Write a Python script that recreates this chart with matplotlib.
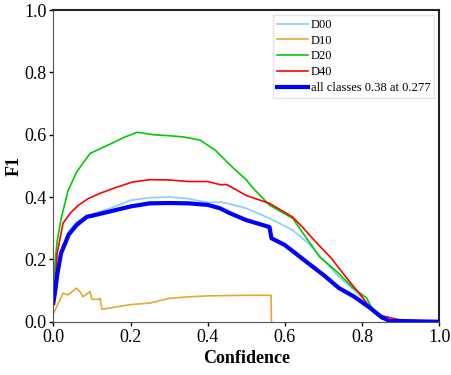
import numpy as np
import matplotlib.pyplot as plt

plt.rcParams['font.family'] = ['Liberation Serif', 'DejaVu Serif']

# confidence / F1 points
x_d00 = [0.0, 0.005, 0.01, 0.02, 0.04, 0.06, 0.08, 0.1, 0.15, 0.2, 0.25, 0.3, 0.35, 0.4, 0.432,
         0.45, 0.5, 0.56, 0.62, 0.66, 0.70, 0.74, 0.78, 0.82, 0.85, 0.87, 0.9, 1.0]
y_d00 = [0.06, 0.1, 0.17, 0.23, 0.29, 0.32, 0.335, 0.345, 0.365, 0.39, 0.398, 0.4, 0.395, 0.383, 0.384,
         0.38, 0.364, 0.332, 0.294, 0.252, 0.198, 0.144, 0.1, 0.054, 0.015, 0.003, 0.0, 0.0]

x_d10 = [0.0, 0.025, 0.038, 0.06, 0.07, 0.077, 0.095, 0.1, 0.12, 0.121, 0.126, 0.2, 0.25, 0.3,
         0.35, 0.4, 0.5, 0.564, 0.565]
y_d10 = [0.025, 0.092, 0.086, 0.108, 0.095, 0.08, 0.097, 0.072, 0.072, 0.076, 0.04, 0.055, 0.06,
         0.075, 0.08, 0.083, 0.085, 0.085, 0.0]

x_d20 = [0.0, 0.005, 0.01, 0.02, 0.038, 0.06, 0.095, 0.147, 0.18, 0.217, 0.26, 0.3, 0.337, 0.38,
         0.42, 0.458, 0.5, 0.518, 0.56, 0.62, 0.647, 0.69, 0.735, 0.777, 0.812, 0.83, 0.85,
         0.88, 1.0]
y_d20 = [0.1, 0.2, 0.26, 0.33, 0.42, 0.48, 0.54, 0.57, 0.59, 0.608, 0.6, 0.597, 0.593, 0.583,
         0.55, 0.503, 0.455, 0.428, 0.374, 0.332, 0.284, 0.208, 0.16, 0.108, 0.076, 0.03, 0.01,
         0.003, 0.0]

x_d40 = [0.0, 0.005, 0.01, 0.025, 0.045, 0.065, 0.09, 0.121, 0.16, 0.207, 0.25, 0.3, 0.35, 0.4,
         0.432, 0.45, 0.5, 0.56, 0.62, 0.645, 0.68, 0.72, 0.76, 0.80, 0.82, 0.85, 0.9, 1.0]
y_d40 = [0.07, 0.13, 0.22, 0.316, 0.35, 0.374, 0.395, 0.412, 0.43, 0.449, 0.456, 0.455, 0.45,
         0.45, 0.44, 0.44, 0.405, 0.38, 0.336, 0.304, 0.256, 0.204, 0.14, 0.08, 0.044, 0.02,
         0.005, 0.0]

x_all = [0.0, 0.005, 0.01, 0.02, 0.04, 0.06, 0.087, 0.1, 0.15, 0.2, 0.25, 0.3, 0.35, 0.4, 0.432,
         0.458, 0.5, 0.56, 0.565, 0.6, 0.66, 0.70, 0.74, 0.78, 0.82, 0.85, 0.87, 1.0]
y_all = [0.06, 0.1, 0.15, 0.22, 0.28, 0.31, 0.337, 0.34, 0.355, 0.37, 0.38, 0.381, 0.38, 0.375,
         0.364, 0.348, 0.326, 0.304, 0.268, 0.246, 0.188, 0.15, 0.108, 0.08, 0.045, 0.015,
         0.003, 0.0]

fig, ax = plt.subplots(figsize=(4.52, 3.75), dpi=100)
fig.subplots_adjust(left=0.118, right=0.972, bottom=0.142, top=0.973)

ax.plot(x_d00, y_d00, color='#87cefa', lw=1.2, label='D00')
ax.plot(x_d10, y_d10, color='#e8a830', lw=1.2, label='D10')
ax.plot(x_d20, y_d20, color='#00cc00', lw=1.2, label='D20')
ax.plot(x_d40, y_d40, color='#ff0000', lw=1.2, label='D40')
ax.plot(x_all, y_all, color='#0000ff', lw=3, label='all classes 0.38 at 0.277')

ax.set_xlim(0, 1)
ax.set_ylim(0, 1)
ax.set_xticks(np.arange(0, 1.01, 0.2))
ax.set_yticks(np.arange(0, 1.01, 0.2))
ax.set_xlabel('Confidence', fontsize=13, fontweight='bold', labelpad=3)
ax.set_ylabel('F1', fontsize=13, fontweight='bold', labelpad=1)
ax.tick_params(labelsize=13, length=3, width=1, direction='out', pad=2)
for s in ['left', 'bottom']:
    ax.spines[s].set_color('#555555')
for s in ['top', 'right']:
    ax.spines[s].set_color('#222222')
    ax.spines[s].set_linewidth(1.5)

ax.legend(loc='upper right', fontsize=9, frameon=True, fancybox=False,
          edgecolor='#dddddd', borderpad=0.3, labelspacing=0.3, handlelength=2.5,
          handletextpad=0.2, borderaxespad=0.4)

plt.savefig('out.png', dpi=100)
